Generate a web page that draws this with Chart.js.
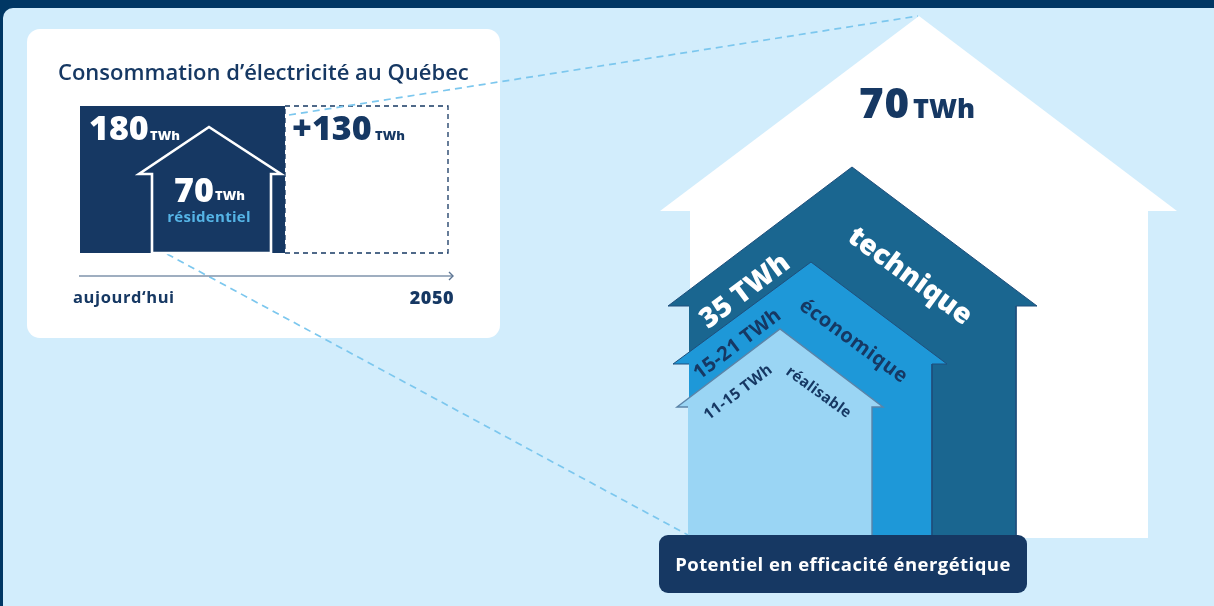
<!DOCTYPE html>
<html lang="fr">
  <head>
    <meta charset="UTF-8" />
    <title>Consommation d'électricité au Québec</title>
    <script src="https://cdn.jsdelivr.net/npm/chart.js"></script>
    <style>
      html,
      body {
        margin: 0;
        padding: 0;
        overflow: hidden;
        background-color: #d2edfc;
      }
      canvas#potentiel {
        display: block;
      }
    </style>
  </head>
  <body>
    <canvas id="potentiel" width="1214" height="606"></canvas>
    <script>
      // Values shown in the inset (TWh)
      const consumptionTWh = [180, 130];
      const residentialTWh = 70;
      const timelineLabels = ["aujourd‘hui", "2050"];

      // Potential houses, largest to smallest
      const potentialLabels = ["35 TWh", "15-21 TWh", "11-15 TWh"];
      const potentialNames = ["technique", "économique", "réalisable"];
      const unitLabel = "TWh";

      // Outlines on the page scale
      const wholeHouseX = [690, 660, 919, 1177, 1148, 1148, 690];
      const wholeHouseY = [211, 211, 16, 211, 211, 538, 538];
      const techniqueX = [689, 668, 852, 1037, 1016, 1016, 689];
      const techniqueY = [306, 306, 167, 306, 306, 536, 536];
      const economiqueX = [689, 673, 811, 947, 932, 932, 689];
      const economiqueY = [364, 364, 262, 364, 364, 536, 536];
      const realisableX = [688, 677, 780, 883, 872, 872, 688];
      const realisableY = [407, 407, 329, 407, 407, 536, 536];
      const insetHouseX = [152, 152, 139, 209, 281, 271, 271, 152];
      const insetHouseY = [253, 174, 174, 127, 174, 174, 253, 253];
      const insetBarY = [106, 106, 253, 253, 106];
      const timelineX = [79, 453];
      const timelineY = [276, 276];
      const arrowHeadX = [449, 453, 449];
      const arrowHeadY = [272, 276, 280];
      const guideTopX = [289, 918];
      const guideTopY = [115, 16];
      const guideBottomX = [167, 688];
      const guideBottomY = [254, 535];

      const NAVY = "#163863";
      const PAGE_W = 1214;
      const PAGE_H = 606;

      function points(xs, ys) {
        return xs.map((x, i) => ({ x: x, y: ys[i] }));
      }

      function shape(xs, ys, fillColor, borderColor, borderWidth, xAxisID) {
        return {
          data: points(xs, ys),
          xAxisID: xAxisID || "x",
          backgroundColor: fillColor,
          borderColor: borderColor,
          borderWidth: borderWidth,
          fill: "shape",
        };
      }

      function stroke(xs, ys, color, width, dash, xAxisID) {
        return {
          data: points(xs, ys),
          xAxisID: xAxisID || "x",
          borderColor: color,
          borderWidth: width,
          borderDash: dash || [],
          fill: false,
        };
      }

      // Bottom to top; order is set below so later entries paint over earlier ones
      const layers = [
        shape([0, consumptionTWh[0], consumptionTWh[0], 0, 0], insetBarY, NAVY, NAVY, 0, "xToday"),
        stroke([0, consumptionTWh[1], consumptionTWh[1], 0, 0], insetBarY, NAVY, 1.3, [5, 4], "xFuture"),
        stroke(guideTopX, guideTopY, "#7cc7ee", 1.7, [7, 5]),
        stroke(guideBottomX, guideBottomY, "#7cc7ee", 1.7, [7, 5]),
        shape(insetHouseX, insetHouseY, NAVY, "#ffffff", 2.6),
        stroke(timelineX, timelineY, "#7f93ab", 1.6),
        stroke(arrowHeadX, arrowHeadY, "#5d7594", 1.4),
        shape(wholeHouseX, wholeHouseY, "#ffffff", "#ffffff", 0),
        shape(techniqueX, techniqueY, "#1a6690", "#1f4f7c", 1),
        shape(economiqueX, economiqueY, "#1e98d8", "#1f4f7c", 1),
        shape(realisableX, realisableY, "#9ad5f4", "#5b84a8", 1.4),
      ];
      layers.forEach((d, i) => {
        d.order = layers.length - i;
        d.showLine = true;
        d.tension = 0;
        d.pointRadius = 0;
        d.yAxisID = "y";
      });

      function text(ctx, s, x, y, font, color, align, angle, spacing) {
        ctx.save();
        ctx.translate(x, y);
        if (angle) ctx.rotate((angle * Math.PI) / 180);
        ctx.font = font;
        ctx.letterSpacing = (spacing || 0) + "px";
        ctx.fillStyle = color;
        ctx.textAlign = align || "left";
        ctx.textBaseline = "alphabetic";
        ctx.fillText(s, 0, 0);
        ctx.restore();
      }

      function panel(ctx, x, y, w, h, r, color) {
        ctx.beginPath();
        ctx.roundRect(x, y, w, h, r);
        ctx.fillStyle = color;
        ctx.fill();
      }

      const FACE = '"Open Sans", sans-serif';

      // Page frame and the white inset card sit under the datasets
      const backdrop = {
        id: "backdrop",
        beforeDatasetsDraw(chart) {
          const { ctx, scales } = chart;
          const px = (v) => scales.x.getPixelForValue(v);
          const py = (v) => scales.y.getPixelForValue(v);
          ctx.save();
          ctx.fillStyle = "#003764";
          ctx.fillRect(0, 0, PAGE_W, PAGE_H);
          panel(ctx, px(3), py(8), 1220, 610, 10, "#d2edfc");
          panel(ctx, px(27), py(29), 473, 309, 13, "#ffffff");
          ctx.restore();
        },
      };

      // Caption box and every text label go over the datasets
      const labels = {
        id: "labels",
        afterDatasetsDraw(chart) {
          const { ctx, scales } = chart;
          const px = (v) => scales.x.getPixelForValue(v);
          const py = (v) => scales.y.getPixelForValue(v);
          const put = (s, x, y, font, color, align, angle, spacing) =>
            text(ctx, s, px(x), py(y), font + " " + FACE, color, align, angle, spacing);

          panel(ctx, px(659), py(535), 368, 58, 9, NAVY);
          put("Potentiel en efficacité énergétique", 843, 571, "700 18.5px", "#ffffff", "center", 0, 0.45);

          put("Consommation d’électricité au Québec", 58, 80, "600 22px", NAVY);
          put(String(consumptionTWh[0]), 89, 140, "800 34px", "#ffffff");
          put(unitLabel, 150, 140, "800 13px", "#ffffff");
          put("+" + consumptionTWh[1], 292, 140, "800 34px", NAVY);
          put(unitLabel, 375, 140, "800 13px", NAVY);
          put(String(residentialTWh), 174, 202, "800 34px", "#ffffff");
          put(unitLabel, 215, 200, "800 13px", "#ffffff");
          put("résidentiel", 209, 222, "700 15px", "#55b4e6", "center", 0, 0.3);
          put(timelineLabels[0], 73, 303, "700 16.5px", NAVY, "left", 0, 0.6);
          put(timelineLabels[1], 454, 304, "800 18px", NAVY, "right", 0, 0.5);

          put(String(residentialTWh), 859, 118, "800 42px", NAVY, "left", 0, 1);
          put(unitLabel, 913, 118, "800 27px", NAVY);

          put(potentialLabels[0], 750, 298, "800 28px", "#ffffff", "center", -37);
          put(potentialNames[0], 905, 283, "800 28px", "#ffffff", "center", 36);
          put(potentialLabels[1], 741, 349, "700 20px", NAVY, "center", -37, 0.3);
          put(potentialNames[1], 850, 346, "700 20px", NAVY, "center", 36, 0.5);
          put(potentialLabels[2], 741, 396, "700 15.5px", NAVY, "center", -37, 0.3);
          put(potentialNames[2], 816, 396, "700 15px", NAVY, "center", 36, 0.3);
        },
      };

      new Chart(document.getElementById("potentiel").getContext("2d"), {
        type: "scatter",
        data: { datasets: layers },
        plugins: [backdrop, labels],
        options: {
          responsive: false,
          animation: false,
          events: [],
          layout: { padding: 0 },
          plugins: { legend: { display: false }, tooltip: { enabled: false } },
          scales: {
            x: { type: "linear", display: false, min: 0, max: PAGE_W },
            y: { type: "linear", display: false, min: 0, max: PAGE_H, reverse: true },
            // Inset segments are not on a common scale: 180 spans 80-285, 130 spans 285-448
            xToday: {
              type: "linear",
              display: false,
              min: (-80 * consumptionTWh[0]) / 205,
              max: ((PAGE_W - 80) * consumptionTWh[0]) / 205,
            },
            xFuture: {
              type: "linear",
              display: false,
              min: (-285 * consumptionTWh[1]) / 163,
              max: ((PAGE_W - 285) * consumptionTWh[1]) / 163,
            },
          },
        },
      });
    </script>
  </body>
</html>
